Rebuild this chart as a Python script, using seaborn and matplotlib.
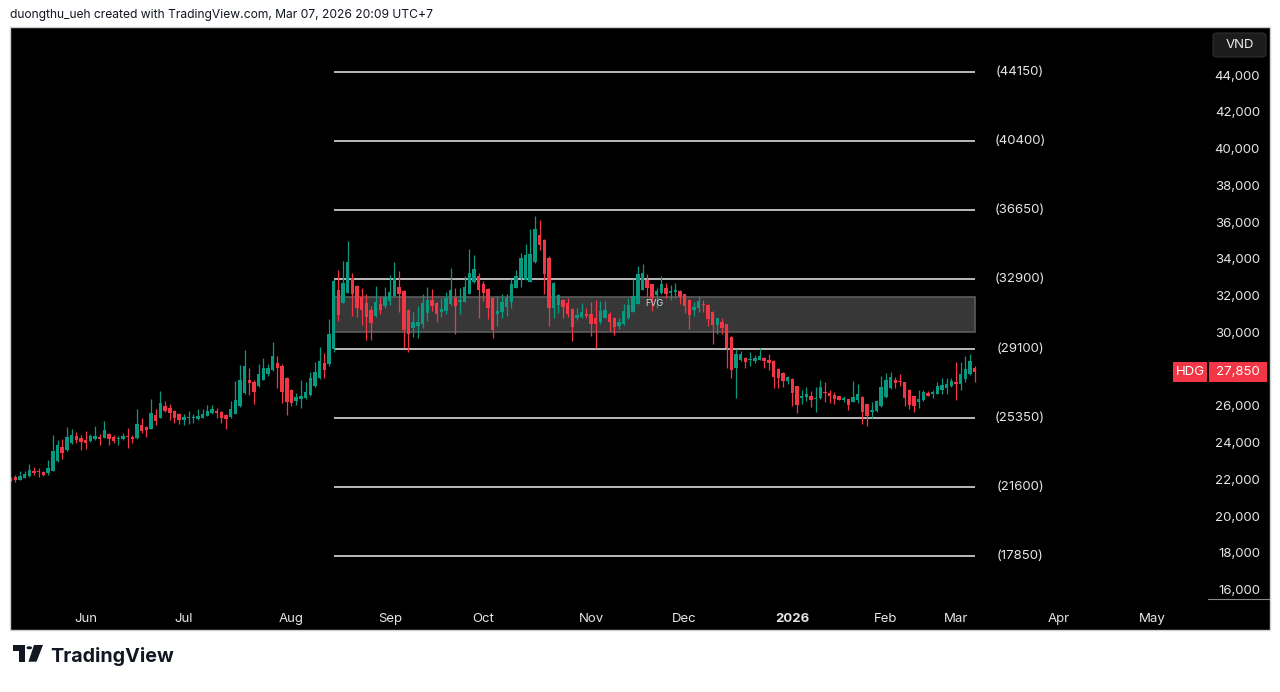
import numpy as np
import pandas as pd
import matplotlib
matplotlib.use("Agg")
import matplotlib.pyplot as plt
import seaborn as sns
from matplotlib.patches import Rectangle, FancyBboxPatch, Circle, Polygon
from matplotlib.lines import Line2D
from matplotlib.transforms import blended_transform_factory

sns.set_theme(style="dark", rc={"axes.facecolor": "black", "figure.facecolor": "white",
                                "axes.grid": False})
plt.rcParams['font.family'] = ['Inter', 'DejaVu Sans']

# ---------------- data (HDG daily candles, VND) ----------------
opens = [22080, 22150, 21970, 22080, 22190, 22440, 22430, 22400, 22330, 22480,
         22990, 23770, 23600, 23960, 24350, 24250, 24160, 24090, 24180, 24330,
         24270, 24470, 24330, 24180, 24200, 24330, 24310, 24250, 24980, 24830,
         24760, 25520, 25360, 25990, 25870, 25720, 25540, 25250, 25320, 25320,
         25290, 25360, 25470, 25610, 25720, 25650, 25510, 25400, 25580, 25980,
         26700, 27430, 27320, 27060, 27430, 27750, 27930, 28330, 28190, 27500,
         26850, 26270, 26380, 26450, 26590, 27060, 27500, 28330, 28300, 29080,
         32290, 31620, 32160, 32980, 32540, 31920, 31600, 31240, 30870, 31560,
         31420, 31710, 32000, 32470, 32250, 31200, 30260, 30330, 30440, 31050,
         31740, 31600, 31090, 31160, 31530, 31850, 31670, 31670, 32100, 32720,
         33050, 32610, 32360, 31850, 31020, 31130, 31380, 31630, 32430, 32940,
         32870, 32760, 33850, 35300, 35010, 34060, 31340, 31490, 31740, 31600,
         31270, 30760, 30840, 31020, 30980, 30760, 30550, 30800, 31020, 30800,
         30360, 30440, 30760, 31130, 31560, 32320, 32830, 32610, 32030, 32140,
         32400, 32140, 32180, 32250, 32070, 31780, 31200, 31310, 31560, 31490,
         31090, 30400, 30580, 30440, 29750, 28080, 28480, 28620, 28480, 28440,
         28510, 28620, 28510, 28440, 28010, 27790, 27350, 27460, 27060, 26410,
         26480, 26560, 26380, 26410, 26770, 26700, 26590, 26520, 26340, 26380,
         26230, 26340, 26480, 26090, 25690, 25720, 25980, 26480, 26960, 27390,
         27350, 27280, 26880, 26520, 26230, 26300, 26700, 26630, 26670, 26850,
         26990, 27060, 27280, 27210, 27460, 27720, 28080]
highs = [22150, 22240, 22460, 22460, 22820, 22660, 22620, 22480, 23060, 24430,
         24150, 24220, 24840, 24760, 24580, 24430, 24620, 24470, 24900, 24490,
         25180, 24550, 24400, 24360, 24530, 24800, 24400, 25830, 25340, 24900,
         26360, 25810, 26790, 26250, 26080, 25800, 25600, 25580, 25720, 25580,
         25830, 25830, 26050, 26050, 25900, 25720, 25560, 26270, 27350, 28220,
         29020, 28080, 27400, 28300, 28620, 28300, 29460, 28700, 28300, 27560,
         26900, 26700, 27390, 27280, 27860, 28410, 29200, 28880, 30730, 32900,
         33370, 33880, 34970, 33230, 32600, 32430, 32100, 31420, 32500, 31920,
         32470, 33120, 33850, 33340, 32300, 31250, 31130, 31420, 32070, 32470,
         32360, 31650, 31850, 32210, 33520, 32400, 32400, 33050, 34540, 34210,
         33230, 32790, 32400, 31900, 32000, 32070, 32070, 32900, 33370, 34320,
         34830, 35620, 36350, 36130, 35100, 34150, 32720, 32100, 31800, 31890,
         31320, 31340, 31600, 31340, 31670, 31740, 31710, 31710, 31100, 30850,
         30760, 31560, 31890, 32900, 33590, 33740, 33160, 32650, 32430, 33080,
         32690, 32580, 32690, 32300, 32100, 31820, 31670, 32000, 31740, 31550,
         31150, 30800, 30800, 30480, 29800, 29100, 28990, 28660, 28910, 28770,
         29130, 28660, 28840, 28500, 28050, 27850, 27620, 27500, 27100, 26850,
         27030, 26810, 27030, 27390, 27280, 26880, 26770, 26560, 26560, 26400,
         27350, 27210, 26520, 26120, 26230, 26340, 27640, 27790, 27830, 27570,
         27720, 27320, 26920, 26560, 26850, 26880, 26810, 26880, 27280, 27500,
         27540, 27500, 28370, 28410, 28700, 28810, 28150]
lows = [21900, 21860, 21950, 22050, 22150, 22220, 22150, 22190, 22260, 22440,
        22950, 23130, 23560, 23930, 24000, 23600, 23640, 24050, 24150, 23860,
        24240, 23890, 23970, 23890, 24170, 23710, 24000, 24220, 24550, 24290,
        24730, 24940, 25330, 25670, 25250, 25090, 25000, 24960, 25030, 25070,
        25250, 25320, 25430, 25580, 25360, 25070, 24740, 25350, 25540, 25940,
        26660, 26590, 26120, 27030, 27390, 27610, 27900, 26960, 26160, 25500,
        26010, 26050, 25870, 26400, 26550, 27030, 27460, 27540, 28150, 28950,
        30620, 31580, 32120, 30910, 30840, 30400, 29600, 29600, 30840, 30980,
        31340, 31490, 31960, 31130, 29170, 28950, 29750, 29710, 30220, 30620,
        31160, 30550, 30840, 30980, 31490, 29930, 30980, 31630, 32070, 32690,
        30800, 31710, 30730, 29710, 30330, 30800, 30870, 31340, 32400, 32470,
        32830, 32720, 33800, 34500, 32100, 30360, 30800, 31070, 30800, 30840,
        29530, 30690, 30760, 30800, 29780, 29130, 30440, 30760, 30070, 29860,
        30180, 30400, 30730, 31090, 31530, 32290, 31920, 31160, 31340, 32110,
        31850, 31740, 31890, 31530, 31050, 30180, 30910, 31090, 31130, 30360,
        29390, 29930, 29930, 28080, 27540, 26450, 28440, 28080, 28150, 28330,
        28480, 28080, 27970, 26960, 26960, 27030, 27210, 25980, 25610, 26090,
        26270, 25940, 25650, 26380, 26230, 26160, 26090, 26300, 26190, 25760,
        26200, 26160, 25030, 24890, 25360, 25690, 25940, 26450, 26920, 26990,
        27060, 25980, 25830, 25690, 25900, 26270, 26520, 26450, 26630, 26630,
        26670, 27030, 26340, 26850, 27280, 27680, 27280]
closes = [22040, 21970, 22190, 22300, 22510, 22330, 22400, 22260, 22620, 23530,
          23890, 23460, 24330, 24420, 24150, 24060, 24000, 24350, 24360, 24220,
          24690, 24220, 24110, 24250, 24380, 24290, 24220, 25030, 24650, 24690,
          25610, 25200, 26140, 25740, 25600, 25360, 25210, 25400, 25360, 25370,
          25430, 25540, 25720, 25830, 25610, 25360, 25290, 25830, 26340, 27390,
          28150, 27250, 26770, 27750, 28080, 28080, 28700, 28080, 26770, 26190,
          26160, 26480, 26560, 26740, 27500, 27860, 28440, 27970, 29930, 32790,
          30940, 32690, 33850, 32100, 31310, 31240, 30840, 30510, 31670, 31240,
          31920, 32180, 32940, 32070, 30150, 29930, 30550, 30580, 31600, 31780,
          31420, 30980, 31270, 31850, 32290, 31420, 31740, 32470, 33230, 33450,
          32290, 32140, 31340, 30150, 31160, 31670, 31850, 32650, 33050, 34060,
          34210, 34250, 35620, 34750, 33160, 31310, 32690, 32030, 31380, 30980,
          30290, 30940, 31130, 30910, 30470, 30440, 31160, 31200, 30580, 30290,
          30550, 31160, 31490, 31960, 33160, 33230, 32400, 31890, 32250, 32650,
          32070, 32250, 32320, 31920, 31450, 30940, 31380, 31710, 31490, 30730,
          30400, 30760, 30260, 29130, 27970, 28840, 28810, 28370, 28510, 28620,
          28730, 28440, 28330, 27570, 27500, 27350, 27570, 26700, 26050, 26560,
          26670, 26340, 26450, 27030, 26700, 26520, 26380, 26340, 26450, 26050,
          26480, 26630, 25650, 25430, 25800, 26270, 27030, 27430, 27570, 27250,
          27280, 26450, 26050, 25980, 26380, 26770, 26560, 26770, 27060, 27140,
          27210, 27350, 27210, 27720, 28010, 28440, 27850]

holidays = ['2025-09-01', '2025-09-02', '2026-01-01', '2026-01-02',
            '2026-02-16', '2026-02-17', '2026-02-18', '2026-02-19', '2026-02-20',
            '2026-04-27', '2026-04-30', '2026-05-01']
first_day = '2025-05-09'
last_axis_day = '2026-05-29'

fib_levels = [44150, 40400, 36650, 32900, 29100, 25350, 21600, 17850]
fib_start_day = '2025-08-14'
fvg_low, fvg_high = 30000, 31950
symbol = 'HDG'
price_ticks = list(range(16000, 44001, 2000))

# ---------------- derived ----------------
sessions = pd.bdate_range(first_day, last_axis_day, freq='C', holidays=holidays)
n = len(opens)
x = np.arange(n)
o = np.array(opens); h = np.array(highs); l = np.array(lows); c = np.array(closes)
up = c >= o
GREEN, RED = '#089981', '#F23645'
cols = np.where(up, GREEN, RED)

W, H = 1280, 692
fig = plt.figure(figsize=(W / 100, H / 100), dpi=100)

# black chart frame
fig.patches.append(Rectangle((10 / W, 1 - 630 / H), 1260 / W, 603 / H,
                             transform=fig.transFigure, facecolor='black',
                             edgecolor='none', zorder=-5))
fig.patches.append(Rectangle((10 / W, 1 - 630 / H), 1260 / W, 603 / H,
                             transform=fig.transFigure, facecolor='none',
                             edgecolor='#cfcfcf', linewidth=1.0, zorder=10))

ax = fig.add_axes([10 / W, 1 - 599 / H, 1198 / W, 572 / H])
ax.set_zorder(2)
ax.set_facecolor('black')
for s in ax.spines.values():
    s.set_visible(False)

bar_px = 4.68
x0_px = 10.7
ax.set_xlim((10 - x0_px) / bar_px, (1208 - x0_px) / bar_px)
shift = 54
ax.set_ylim(48026 - 54.4 * 599 + shift, 48026 - 54.4 * 27 + shift)

# fib-like level lines and FVG box
fib_i0 = int(np.where(sessions == pd.Timestamp(fib_start_day))[0][0])
fib_i1 = n - 1
ax.add_patch(Rectangle((fib_i0, fvg_low), fib_i1 - fib_i0, fvg_high - fvg_low,
                       facecolor='#373737', edgecolor='#5c5c5c', linewidth=1.2, zorder=1))
ax.text((fib_i0 + fib_i1) / 2, fvg_high - 380, 'FVG', color='#d8d8d8', fontsize=6.5,
        ha='center', va='center', zorder=4)
ax.hlines(fib_levels, fib_i0, fib_i1, color='#c8c8c8', linewidth=1.3, zorder=2)
for lv in fib_levels:
    ax.text(fib_i1 + 9.7, lv, f'({lv})', color='#e6e6e6', fontsize=9.5,
            ha='center', va='center', zorder=4)

# candles
ax.vlines(x, l, h, colors=cols, linewidth=0.9, zorder=3)
body_h = np.maximum(np.abs(c - o), 55)
ax.bar(x, body_h, bottom=np.minimum(o, c), width=0.72, color=cols, linewidth=0, zorder=3)

# price axis
ax.yaxis.tick_right()
ax.set_yticks(price_ticks)
ax.set_yticklabels([f'{v:,}' for v in price_ticks])
ax.tick_params(axis='y', length=0, pad=37.4, labelcolor='#e6e6e6', labelsize=9.5)
for t in ax.get_yticklabels():
    t.set_ha('right')

# time axis
month_pos, month_lab = [], []
ser = pd.Series(np.arange(len(sessions)), index=sessions)
for key, grp in ser.groupby([sessions.year, sessions.month]):
    i = int(grp.iloc[0])
    if i == 0:
        continue
    d = sessions[i]
    month_pos.append(i)
    month_lab.append(str(d.year) if d.month == 1 else d.strftime('%b'))
ax.set_xticks(month_pos)
ax.set_xticklabels(month_lab)
ax.tick_params(axis='x', length=0, pad=10, labelcolor='#e6e6e6', labelsize=9.5)
for t in ax.get_xticklabels():
    if t.get_text().isdigit():
        t.set_fontweight('bold')

# last price tag
tr = blended_transform_factory(ax.transAxes, ax.transData)
last = closes[-1]
hh = 20 * 54.4
ax.add_patch(Rectangle(((1173 - 10) / 1198, last - hh / 2), 34 / 1198, hh, transform=tr,
                       facecolor=RED, edgecolor='none', clip_on=False, zorder=5))
ax.add_patch(Rectangle(((1208.5 - 10) / 1198, last - hh / 2), 58.5 / 1198, hh, transform=tr,
                       facecolor=RED, edgecolor='none', clip_on=False, zorder=5))
ax.text((1190 - 10) / 1198, last, symbol, transform=tr, color='white', fontsize=9.5,
        ha='center', va='center', clip_on=False, zorder=6)
ax.text((1238 - 10) / 1198, last, f'{last:,}', transform=tr, color='white', fontsize=9.5,
        ha='center', va='center', clip_on=False, zorder=6)

# currency box
fig.patches.append(FancyBboxPatch((1213 / W, 1 - 57 / H), 53 / W, 24 / H,
                                  boxstyle='round,pad=0,rounding_size=0.004',
                                  transform=fig.transFigure, facecolor='#1c1c1c',
                                  edgecolor='#2e2e2e', linewidth=0.8, zorder=5))
fig.text(1239.5 / W, 1 - 45 / H, 'VND', color='#eeeeee', fontsize=9.5,
         ha='center', va='center', zorder=6)
fig.lines.append(Line2D([1208 / W, 1269 / W], [1 - 599 / H, 1 - 599 / H],
                        transform=fig.transFigure, color='#8a8a8a', linewidth=0.8, zorder=5))

# header and footer
fig.text(10 / W, 1 - 15 / H, 'duongthu_ueh created with TradingView.com, Mar 07, 2026 20:09 UTC+7',
         color='#131722', fontsize=8.7, ha='left', va='center')
fig.text(50 / W, 1 - 662 / H, 'TradingView', color='#131722', fontsize=14.2,
         fontweight='bold', ha='left', va='baseline')

def P(px, py):
    return (px / W, 1 - py / H)

logo_col = '#131722'
fig.patches.append(Polygon([P(12.7, 645), P(25, 645), P(25, 661.7), P(19, 661.7),
                            P(19, 650.5), P(12.7, 650.5)], closed=True,
                           transform=fig.transFigure, facecolor=logo_col, edgecolor='none'))
fig.patches.append(Circle(P(29.3, 647.8), 2.8 / W, transform=fig.transFigure,
                          facecolor=logo_col, edgecolor='none'))
fig.patches.append(Polygon([P(34, 645), P(43, 645), P(36.5, 661.7), P(28.5, 661.7)],
                           closed=True, transform=fig.transFigure,
                           facecolor=logo_col, edgecolor='none'))

fig.savefig('out.png', dpi=100, facecolor='white')
